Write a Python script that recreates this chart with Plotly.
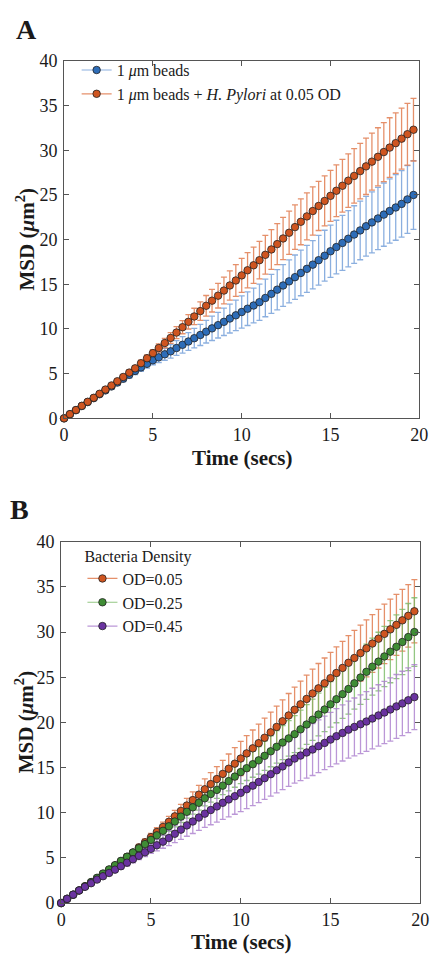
import plotly.graph_objects as go

# ---------------- data ----------------
time_s = [0.00, 0.33, 0.67, 1.00, 1.33, 1.67, 2.00, 2.33, 2.67, 3.00,
          3.33, 3.67, 4.00, 4.33, 4.67, 5.00, 5.33, 5.67, 6.00, 6.33,
          6.67, 7.00, 7.33, 7.67, 8.00, 8.33, 8.67, 9.00, 9.33, 9.67,
          10.00, 10.33, 10.67, 11.00, 11.33, 11.67, 12.00, 12.33, 12.67, 13.00,
          13.33, 13.67, 14.00, 14.33, 14.67, 15.00, 15.33, 15.67, 16.00, 16.33,
          16.67, 17.00, 17.33, 17.67, 18.00, 18.33, 18.67, 19.00, 19.33, 19.67]

beads_msd = [0, 0.46, 0.92, 1.38, 1.82, 2.26, 2.70, 3.13, 3.57, 4.00,
             4.43, 4.87, 5.30, 5.70, 6.10, 6.50, 6.83, 7.17, 7.50, 7.87,
             8.23, 8.60, 8.97, 9.33, 9.70, 10.07, 10.43, 10.80, 11.17, 11.53,
             11.90, 12.27, 12.63, 13.00, 13.47, 13.93, 14.40, 14.87, 15.33, 15.80,
             16.27, 16.73, 17.20, 17.70, 18.20, 18.70, 19.17, 19.63, 20.10, 20.57,
             21.03, 21.50, 21.93, 22.37, 22.80, 23.20, 23.60, 24.00, 24.50, 25.00]
beads_err = [0, 0.03, 0.07, 0.10, 0.13, 0.17, 0.20, 0.23, 0.27, 0.30,
             0.33, 0.37, 0.40, 0.43, 0.47, 0.50, 0.58, 0.67, 0.75, 0.83,
             0.92, 1.00, 1.09, 1.18, 1.27, 1.36, 1.44, 1.53, 1.62, 1.71,
             1.80, 1.88, 1.95, 2.03, 2.10, 2.18, 2.25, 2.33, 2.40, 2.48,
             2.55, 2.63, 2.70, 2.78, 2.85, 2.93, 3.00, 3.08, 3.15, 3.22,
             3.28, 3.35, 3.41, 3.48, 3.54, 3.60, 3.67, 3.73, 3.79, 3.85]

od005_msd = [0, 0.47, 0.93, 1.40, 1.85, 2.30, 2.75, 3.22, 3.68, 4.15,
             4.63, 5.12, 5.60, 6.17, 6.73, 7.30, 7.87, 8.43, 9.00, 9.60,
             10.20, 10.80, 11.40, 12.00, 12.60, 13.17, 13.73, 14.30, 14.87, 15.43,
             16.00, 16.57, 17.13, 17.70, 18.30, 18.90, 19.50, 20.13, 20.77, 21.40,
             22.00, 22.60, 23.20, 23.77, 24.33, 24.90, 25.47, 26.03, 26.60, 27.13,
             27.67, 28.20, 28.73, 29.27, 29.80, 30.30, 30.80, 31.30, 31.80, 32.30]
od005_err = [0, 0.02, 0.04, 0.07, 0.09, 0.11, 0.13, 0.16, 0.18, 0.20,
             0.23, 0.27, 0.30, 0.33, 0.37, 0.40, 0.47, 0.53, 0.60, 0.67,
             0.73, 0.80, 0.92, 1.03, 1.15, 1.27, 1.38, 1.50, 1.63, 1.77,
             1.90, 1.97, 2.03, 2.10, 2.17, 2.23, 2.30, 2.37, 2.43, 2.50,
             2.57, 2.63, 2.70, 2.75, 2.80, 2.85, 2.90, 2.95, 3.00, 3.05,
             3.10, 3.15, 3.20, 3.25, 3.30, 3.34, 3.38, 3.42, 3.46, 3.50]

od025_msd = [0, 0.47, 0.93, 1.40, 1.87, 2.33, 2.80, 3.27, 3.73, 4.20,
             4.67, 5.13, 5.60, 6.07, 6.53, 7.00, 7.50, 8.00, 8.50, 9.03,
             9.57, 10.10, 10.60, 11.10, 11.60, 12.07, 12.53, 13.00, 13.50, 14.00,
             14.50, 14.93, 15.37, 15.80, 16.30, 16.80, 17.30, 17.77, 18.23, 18.70,
             19.23, 19.77, 20.30, 20.87, 21.43, 22.00, 22.57, 23.13, 23.70, 24.33,
             24.97, 25.60, 26.17, 26.73, 27.30, 27.83, 28.37, 28.90, 29.45, 30.00]
od025_err = [0, 0.03, 0.05, 0.08, 0.11, 0.13, 0.16, 0.19, 0.21, 0.24,
             0.27, 0.29, 0.32, 0.35, 0.37, 0.40, 0.45, 0.50, 0.55, 0.60,
             0.65, 0.70, 0.75, 0.80, 0.85, 0.90, 0.95, 1.00, 1.09, 1.18,
             1.27, 1.36, 1.44, 1.53, 1.62, 1.71, 1.80, 1.88, 1.96, 2.04,
             2.12, 2.20, 2.28, 2.36, 2.45, 2.53, 2.61, 2.69, 2.78, 2.87,
             2.97, 3.06, 3.16, 3.25, 3.34, 3.44, 3.53, 3.62, 3.71, 3.80]

od045_msd = [0, 0.47, 0.93, 1.40, 1.80, 2.20, 2.60, 2.97, 3.33, 3.70,
             4.08, 4.47, 4.85, 5.23, 5.62, 6.00, 6.40, 6.80, 7.20, 7.67,
             8.13, 8.60, 9.03, 9.47, 9.90, 10.30, 10.70, 11.10, 11.47, 11.83,
             12.20, 12.60, 13.00, 13.40, 13.83, 14.27, 14.70, 15.13, 15.57, 16.00,
             16.33, 16.67, 17.00, 17.37, 17.73, 18.10, 18.47, 18.83, 19.20, 19.50,
             19.80, 20.10, 20.43, 20.77, 21.10, 21.43, 21.77, 22.10, 22.45, 22.80]
od045_err = [0, 0.03, 0.07, 0.10, 0.13, 0.17, 0.20, 0.23, 0.27, 0.30,
             0.33, 0.37, 0.40, 0.43, 0.47, 0.50, 0.62, 0.73, 0.85, 0.97,
             1.08, 1.20, 1.33, 1.43, 1.53, 1.63, 1.73, 1.83, 1.92, 2.00,
             2.07, 2.15, 2.22, 2.29, 2.36, 2.44, 2.51, 2.58, 2.65, 2.73,
             2.78, 2.83, 2.88, 2.92, 2.96, 3.00, 3.05, 3.10, 3.15, 3.20,
             3.25, 3.30, 3.35, 3.40, 3.45, 3.50, 3.53, 3.56, 3.58, 3.60]

x_ticks = [0, 5, 10, 15, 20]
y_ticks = [0, 5, 10, 15, 20, 25, 30, 35, 40]

legend_a = ["1 <i>\u03bc</i>m beads",
            "1 <i>\u03bc</i>m beads + <i>H. Pylori</i> at 0.05 OD"]
legend_b_title = "Bacteria Density"
legend_b = ["OD=0.05", "OD=0.25", "OD=0.45"]

# ---------------- styling ----------------
W, H = 439, 964
FONT = "Liberation Serif"
AX = "#555555"
TXT = "#1a1a1a"

BLUE, BLUE_L = "#2e6db8", "rgba(110,155,215,0.80)"
ORNG, ORNG_L = "#cf5520", "rgba(225,125,80,0.85)"
GRN, GRN_L = "#3f8d35", "rgba(120,185,100,0.80)"
PURP, PURP_L = "#6a33a0", "rgba(170,125,205,0.80)"


def px_x(p):
    return p / W


def px_y(p):
    return 1 - p / H


fig = go.Figure()


def add_errbars(xa, ya, y, err, light):
    # error bars first (so every marker is drawn on top)
    fig.add_trace(go.Scatter(
        x=time_s, y=y, mode="markers", xaxis=xa, yaxis=ya,
        marker=dict(size=1, color="rgba(0,0,0,0)"),
        error_y=dict(type="data", array=err, visible=True, color=light,
                     thickness=1.3, width=3),
        showlegend=False, hoverinfo="skip", cliponaxis=False))


def add_markers(xa, ya, y, dark, light, name, legend):
    fig.add_trace(go.Scatter(
        x=time_s, y=y, mode="lines+markers", xaxis=xa, yaxis=ya,
        name=name, legend=legend,
        line=dict(color=light, width=1.2),
        marker=dict(size=7.5, color=dark, line=dict(color="#222222", width=0.8)),
        cliponaxis=False))


# Panel A
add_errbars("x", "y", beads_msd, beads_err, BLUE_L)
add_errbars("x", "y", od005_msd, od005_err, ORNG_L)
add_markers("x", "y", beads_msd, BLUE, BLUE_L, legend_a[0], "legend")
add_markers("x", "y", od005_msd, ORNG, ORNG_L, legend_a[1], "legend")

# Panel B
add_errbars("x2", "y2", od005_msd, od005_err, ORNG_L)
add_errbars("x2", "y2", od025_msd, od025_err, GRN_L)
add_errbars("x2", "y2", od045_msd, od045_err, PURP_L)
add_markers("x2", "y2", od005_msd, ORNG, ORNG_L, legend_b[0], "legend2")
add_markers("x2", "y2", od025_msd, GRN, GRN_L, legend_b[1], "legend2")
add_markers("x2", "y2", od045_msd, PURP, PURP_L, legend_b[2], "legend2")

axis_common = dict(showline=True, linecolor=AX, linewidth=1, mirror="ticks",
                   ticks="inside", ticklen=5, tickcolor=AX, tickwidth=1,
                   showgrid=False, zeroline=False,
                   tickfont=dict(family=FONT, size=18, color=TXT))

fig.update_layout(
    width=W, height=H, margin=dict(l=0, r=0, t=0, b=0),
    paper_bgcolor="white", plot_bgcolor="white",
    font=dict(family=FONT, color=TXT),
    xaxis=dict(domain=[px_x(61), px_x(428)], range=[0, 20], tickvals=x_ticks,
               anchor="y", **axis_common),
    yaxis=dict(domain=[px_y(417), px_y(52)], range=[0, 40], tickvals=y_ticks,
               anchor="x", ticklabelstandoff=2, **axis_common),
    xaxis2=dict(domain=[px_x(58), px_x(429)], range=[0, 20], tickvals=x_ticks,
                anchor="y2", **axis_common),
    yaxis2=dict(domain=[px_y(912), px_y(543)], range=[0, 40], tickvals=y_ticks,
                anchor="x2", ticklabelstandoff=2, **axis_common),
    legend=dict(x=px_x(74), y=px_y(44), xanchor="left", yanchor="top",
                bgcolor="rgba(0,0,0,0)", borderwidth=0,
                font=dict(family=FONT, size=16, color=TXT),
                itemwidth=30, tracegroupgap=0),
    legend2=dict(x=px_x(80), y=px_y(542), xanchor="left", yanchor="top",
                 bgcolor="rgba(0,0,0,0)", borderwidth=0,
                 title=dict(text=legend_b_title,
                            font=dict(family=FONT, size=16, color=TXT)),
                 font=dict(family=FONT, size=16, color=TXT),
                 itemwidth=30, tracegroupgap=0),
    showlegend=True,
)

ann = [
    ("<b>A</b>", 22, 20, 28, 0),
    ("<b>B</b>", 15, 510, 28, 0),
    ("<b>Time (secs)</b>", 245, 457, 21, 0),
    ("<b>Time (secs)</b>", 244, 952, 21, 0),
    ("<b>MSD (<i>\u03bc</i>m<sup>2</sup>)</b>", 21, 234, 21, -90),
    ("<b>MSD (<i>\u03bc</i>m<sup>2</sup>)</b>", 21, 727, 21, -90),
]
for text, ax_, ay_, size, ang in ann:
    fig.add_annotation(text=text, x=px_x(ax_), y=px_y(ay_), xref="paper",
                       yref="paper", showarrow=False, textangle=ang,
                       xanchor="center", yanchor="middle",
                       font=dict(family=FONT, size=size, color=TXT))

fig.write_html("out.html",
               config={"displayModeBar": False},
               post_script="document.body.style.margin='0px';"
                           "document.body.style.overflow='hidden';")
